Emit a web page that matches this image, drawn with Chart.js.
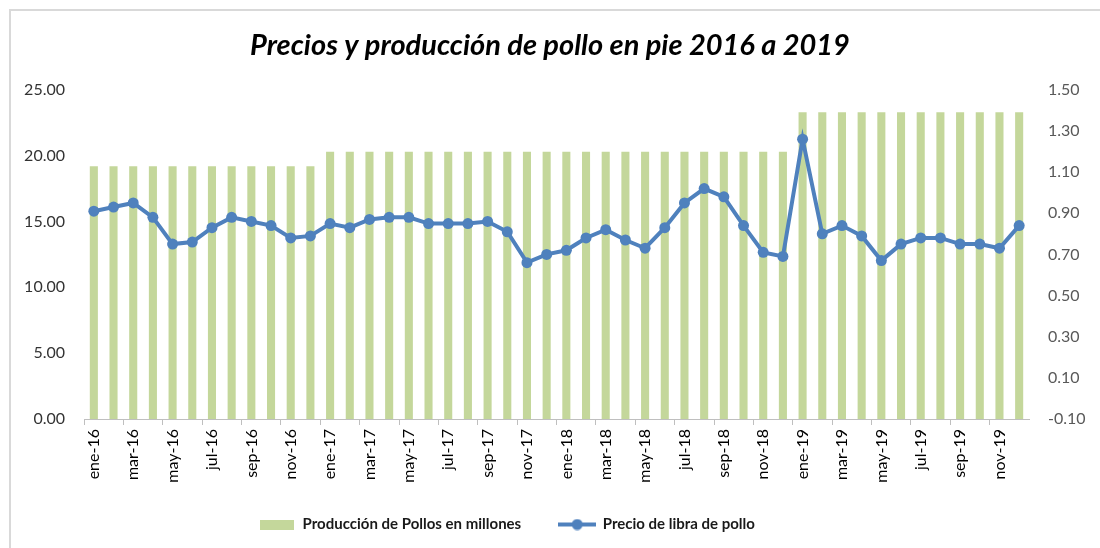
<!DOCTYPE html>
<html>
<head>
<meta charset="utf-8">
<script src="https://cdn.jsdelivr.net/npm/chart.js@4"></script>
<style>
  body { margin: 0; background: #fff; }
  #wrap { position: relative; width: 1100px; height: 548px; }
  #frame { position: absolute; left: 9px; top: 9px; width: 1200px; height: 600px; border-left: 2px solid #d9d9d9; border-top: 2px solid #d9d9d9; pointer-events: none; }
</style>
</head>
<body>
<div id="wrap">
  <canvas id="chart" width="1100" height="548"></canvas>
  <div id="frame"></div>
</div>
<script>
const months = ['ene','feb','mar','abr','may','jun','jul','ago','sep','oct','nov','dic']
const years = ['16','17','18','19']
const labels = []
years.forEach(y => months.forEach(m => labels.push(m + '-' + y)))

const produccion = [
  19.2,19.2,19.2,19.2,19.2,19.2,19.2,19.2,19.2,19.2,19.2,19.2,
  20.3,20.3,20.3,20.3,20.3,20.3,20.3,20.3,20.3,20.3,20.3,20.3,
  20.3,20.3,20.3,20.3,20.3,20.3,20.3,20.3,20.3,20.3,20.3,20.3,
  23.3,23.3,23.3,23.3,23.3,23.3,23.3,23.3,23.3,23.3,23.3,23.3
]
const precio = [
  0.91,0.93,0.95,0.88,0.75,0.76,0.83,0.88,0.86,0.84,0.78,0.79,
  0.85,0.83,0.87,0.88,0.88,0.85,0.85,0.85,0.86,0.81,0.66,0.70,
  0.72,0.78,0.82,0.77,0.73,0.83,0.95,1.02,0.98,0.84,0.71,0.69,
  1.26,0.80,0.84,0.79,0.67,0.75,0.78,0.78,0.75,0.75,0.73,0.84
]

const green = '#c4d79b'
const blue = '#4f81bd'
const font = 'Lato'

// legend markers
function barMarker() {
  const c = document.createElement('canvas')
  c.width = 34; c.height = 10
  const g = c.getContext('2d')
  g.fillStyle = green
  g.fillRect(0, 0, 34, 10)
  return c
}
function lineMarker() {
  const c = document.createElement('canvas')
  c.width = 38; c.height = 12
  const g = c.getContext('2d')
  g.strokeStyle = blue; g.lineWidth = 4
  g.beginPath(); g.moveTo(0, 6); g.lineTo(38, 6); g.stroke()
  g.fillStyle = blue
  g.beginPath(); g.arc(19, 6, 5.5, 0, Math.PI * 2); g.fill()
  return c
}
const markers = [lineMarker(), barMarker()]

// the legend sits a bit left of centre in the original
const moveLegend = {
  id: 'moveLegend',
  afterLayout(chart) {
    const lg = chart.legend
    lg.left -= 43; lg.right -= 43
    lg.top -= 10; lg.bottom -= 10
  }
}

new Chart(document.getElementById('chart'), {
  type: 'bar',
  data: {
    labels,
    datasets: [
      {
        type: 'line',
        label: 'Precio de libra de pollo',
        data: precio,
        yAxisID: 'y1',
        borderColor: blue,
        backgroundColor: blue,
        borderWidth: 4,
        pointRadius: 5.5,
        pointBackgroundColor: blue,
        pointBorderWidth: 0,
        tension: 0,
        fill: false
      },
      {
        label: 'Producción de Pollos en millones',
        data: produccion,
        yAxisID: 'y',
        backgroundColor: green,
        categoryPercentage: 1,
        barPercentage: 0.41
      }
    ]
  },
  plugins: [moveLegend],
  options: {
    responsive: false,
    animation: false,
    layout: { padding: { left: 0, right: 0, top: 0, bottom: -4 } },
    plugins: {
      tooltip: { enabled: false },
      title: {
        display: true,
        text: 'Precios y producción de pollo en pie 2016 a 2019',
        color: '#000',
        font: { family: font, size: 29, weight: 'bold', style: 'italic' },
        padding: { top: 28, bottom: 27 }
      },
      legend: {
        position: 'bottom',
        labels: {
          color: '#1a1a1a',
          font: { family: font, size: 15, weight: 'bold' },
          usePointStyle: true,
          pointStyleWidth: 36,
          padding: 38,
          sort: (a, b) => b.datasetIndex - a.datasetIndex,
          generateLabels: chart => chart.data.datasets.map((ds, i) => ({
            text: ds.label,
            datasetIndex: i,
            pointStyle: markers[i],
            fillStyle: ds.backgroundColor,
            strokeStyle: ds.backgroundColor,
            lineWidth: 0,
            hidden: false,
            fontColor: '#1a1a1a'
          }))
        }
      }
    },
    scales: {
      x: {
        afterFit: s => { s.height = 70 },
        grid: {
          offset: true,
          drawOnChartArea: false,
          drawTicks: true,
          tickLength: 6,
          color: ctx => ctx.index % 2 === 0 ? '#bfbfbf' : 'rgba(0,0,0,0)'
        },
        border: { display: true, color: '#bfbfbf', width: 1 },
        ticks: {
          autoSkip: false,
          maxRotation: 90,
          minRotation: 90,
          padding: 4,
          color: '#000',
          font: { family: font, size: 16 },
          callback: (v, i) => i % 2 === 0 ? labels[i] : ''
        }
      },
      y: {
        position: 'left',
        min: 0,
        max: 25,
        afterFit: s => { s.width = 84 },
        grid: { display: false },
        border: { display: false },
        ticks: {
          stepSize: 5,
          padding: 11,
          color: '#333',
          font: { family: font, size: 16 },
          callback: v => v.toFixed(2)
        }
      },
      y1: {
        position: 'right',
        min: -0.1,
        max: 1.5,
        afterFit: s => { s.width = 71 },
        grid: { display: false },
        border: { display: false },
        ticks: {
          stepSize: 0.2,
          padding: 11,
          color: '#595959',
          font: { family: font, size: 16 },
          callback: v => v.toFixed(2)
        }
      }
    }
  }
})
</script>
</body>
</html>
